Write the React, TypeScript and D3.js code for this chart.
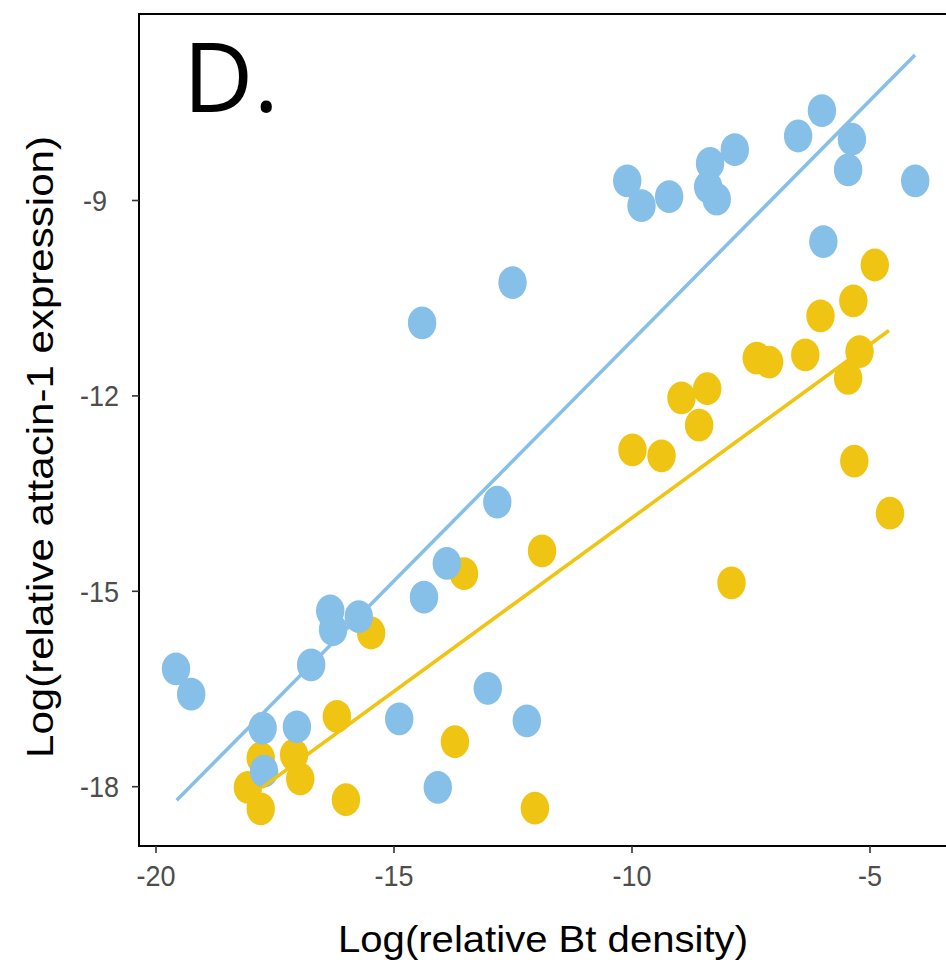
import React from "react";
import * as d3 from "d3";

// Log(relative Bt density) vs log(relative attacin-1 expression), two groups
const blueX = [-19.58, -19.26, -17.76, -17.73, -17.04, -16.74, -16.34, -16.28, -15.74, -14.89, -14.37, -14.08, -13.89, -14.41, -13.03, -12.83, -12.51, -12.21, -10.1, -9.8, -9.22, -8.36, -8.4, -8.22, -7.84, -6.51, -6.01, -5.38, -5.46, -5.98, -4.05];
const blueY = [-16.19, -16.58, -17.1, -17.76, -17.08, -16.13, -15.3, -15.59, -15.39, -16.96, -15.09, -18.01, -14.57, -10.88, -16.49, -13.63, -10.26, -16.99, -8.7, -9.08, -8.94, -8.43, -8.79, -8.98, -8.22, -8.01, -7.62, -8.06, -8.53, -9.63, -8.7];

const yellowX = [-18.07, -17.8, -17.8, -17.1, -16.97, -16.2, -16.01, -15.48, -13.72, -13.53, -12.04, -11.89, -9.99, -9.38, -8.96, -8.59, -8.42, -7.91, -7.38, -7.12, -6.36, -6.04, -5.35, -4.9, -5.22, -5.46, -5.33, -4.58];
const yellowY = [-18.01, -17.56, -18.34, -17.51, -17.88, -16.92, -18.2, -15.64, -17.31, -14.73, -18.33, -14.38, -12.83, -12.92, -12.03, -12.45, -11.89, -14.87, -11.42, -11.48, -11.37, -10.77, -10.54, -9.99, -11.32, -11.73, -13.0, -13.8];

// Fitted line endpoints for each group
const blueFitX = [-19.565, -4.055];
const blueFitY = [-18.208, -6.765];
const yellowFitX = [-17.773, -4.601];
const yellowFitY = [-18.014, -10.995];

const xTicks = [-20, -15, -10, -5];
const yTicks = [-9, -12, -15, -18];

const BLUE = "#86C0E8";
const YELLOW = "#F0C412";

export default function App() {
  const W = 946;
  const H = 964;
  const left = 139;
  const top = 14;
  const bottom = 846;

  const x = d3.scaleLinear().domain([-20, -5]).range([156, 870]);
  const y = d3.scaleLinear().domain([-9, -18]).range([200.5, 786.7]);

  const line = d3
    .line<[number, number]>()
    .x((d) => x(d[0]))
    .y((d) => y(d[1]));

  const bluePts = blueX.map((v, i) => [v, blueY[i]] as [number, number]);
  const yellowPts = yellowX.map((v, i) => [v, yellowY[i]] as [number, number]);
  const blueFit = blueFitX.map((v, i) => [v, blueFitY[i]] as [number, number]);
  const yellowFit = yellowFitX.map((v, i) => [v, yellowFitY[i]] as [number, number]);

  const rx = 14.2;
  const ry = 16.4;
  const tickFont = "'Liberation Sans', Arial, sans-serif";

  return (
    <svg
      width={W}
      height={H}
      viewBox={`0 0 ${W} ${H}`}
      style={{ position: "absolute", left: 0, top: 0, background: "#fff" }}
    >
      <rect x={0} y={0} width={W} height={H} fill="#fff" />
      <g>
        {yellowPts.map((p, i) => (
          <ellipse key={"y" + i} cx={x(p[0])} cy={y(p[1])} rx={rx} ry={ry} fill={YELLOW} />
        ))}
        {bluePts.map((p, i) => (
          <ellipse key={"b" + i} cx={x(p[0])} cy={y(p[1])} rx={rx} ry={ry} fill={BLUE} />
        ))}
      </g>
      <path d={line(blueFit) || ""} stroke={BLUE} strokeWidth={3.6} fill="none" />
      <path d={line(yellowFit) || ""} stroke={YELLOW} strokeWidth={3.6} fill="none" />

      {/* panel border: left, top and bottom */}
      <line x1={left} y1={top} x2={W} y2={top} stroke="#000" strokeWidth={2} />
      <line x1={left} y1={top - 1} x2={left} y2={bottom + 1} stroke="#000" strokeWidth={2} />
      <line x1={left} y1={bottom} x2={W} y2={bottom} stroke="#000" strokeWidth={2} />

      {xTicks.map((t) => (
        <g key={"xt" + t}>
          <line x1={x(t)} x2={x(t)} y1={bottom} y2={bottom + 7} stroke="#333" strokeWidth={1.6} />
          <text
            transform={`translate(${x(t)},${bottom + 40}) scale(0.9,1)`}
            textAnchor="middle"
            fontFamily={tickFont}
            fontSize={30}
            fill="#4d4d4d"
          >
            {t}
          </text>
        </g>
      ))}
      {yTicks.map((t) => (
        <g key={"yt" + t}>
          <line x1={left - 7} x2={left} y1={y(t)} y2={y(t)} stroke="#333" strokeWidth={1.6} />
          <text
            transform={`translate(${t === -9 ? 83 : 80},${y(t) + 10.5}) scale(0.9,1)`}
            textAnchor="start"
            fontFamily={tickFont}
            fontSize={30}
            fill="#4d4d4d"
          >
            {t}
          </text>
        </g>
      ))}

      <text
        x={543}
        y={952}
        textAnchor="middle"
        fontFamily={tickFont}
        fontSize={37}
        fill="#000"
        textLength={410}
        lengthAdjust="spacingAndGlyphs"
      >
        Log(relative Bt density)
      </text>
      <text
        transform={`translate(53,447) rotate(-90)`}
        textAnchor="middle"
        fontFamily={tickFont}
        fontSize={37}
        fill="#000"
        textLength={622}
        lengthAdjust="spacingAndGlyphs"
      >
        Log(relative attacin-1 expression)
      </text>

      <text x={183} y={112} fontFamily="'Open Sans', 'Noto Sans', sans-serif" fontSize={97} fill="#000">
        D.
      </text>
    </svg>
  );
}
